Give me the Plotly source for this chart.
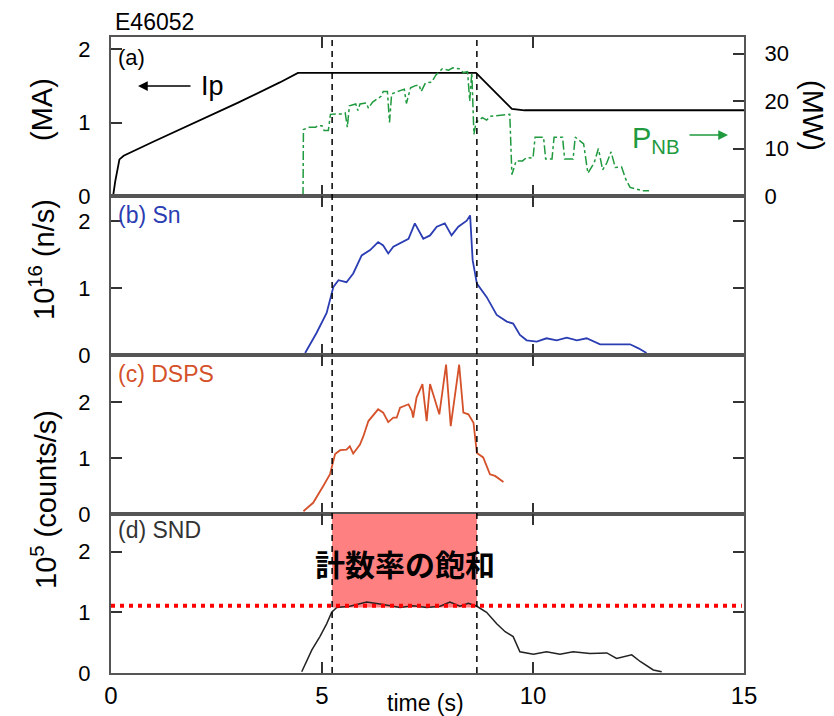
import plotly.graph_objects as go

# ---------------- data ----------------
ip_t = [0.05, 0.1, 0.2, 0.3, 1.0, 2.0, 3.0, 4.0, 4.43, 8.65, 9.5, 9.8, 15.0]
ip_v = [0.0, 0.2, 0.5, 0.55, 0.74, 1.0, 1.27, 1.55, 1.68, 1.68, 1.19, 1.17, 1.17]

pnb_t = [4.55, 4.56, 4.7, 4.85, 4.9, 5.0, 5.05, 5.15, 5.2, 5.45, 5.55, 5.6, 5.65, 5.8, 5.85,
         5.9, 6.05, 6.1, 6.2, 6.4, 6.45, 6.55, 6.6, 6.65, 6.85, 6.95, 7.0, 7.1, 7.2, 7.3,
         7.35, 7.45, 7.6, 7.7, 7.85, 8.0, 8.1, 8.25, 8.35, 8.45, 8.5, 8.55, 8.6, 8.65, 8.8,
         8.9, 9.0, 9.2, 9.45, 9.5, 9.6, 9.75, 9.85, 10.0, 10.05, 10.25, 10.3, 10.45, 10.5,
         10.7, 10.75, 10.95, 11.0, 11.2, 11.3, 11.45, 11.55, 11.65, 11.75, 11.85, 11.95,
         12.1, 12.2, 12.3, 12.6, 12.75]
pnb_v = [0.0, 14.0, 14.5, 14.5, 14.8, 14.8, 13.8, 13.8, 17.2, 17.3, 17.5, 14.5, 19.0, 19.4, 18.0,
         19.4, 19.6, 18.5, 19.8, 21.0, 22.0, 22.0, 15.5, 21.5, 22.2, 22.5, 19.5, 22.8, 23.2, 23.4,
         22.0, 23.8, 24.0, 25.5, 26.8, 26.5, 27.0, 26.8, 26.0, 26.2, 20.0, 26.0, 13.0, 15.5, 16.5,
         16.0, 16.8, 17.0, 17.2, 4.5, 7.4, 7.4, 8.1, 8.0, 12.4, 12.4, 7.8, 7.8, 12.4,
         12.4, 7.8, 7.8, 12.4, 11.0, 4.8, 7.0, 10.0, 5.5, 7.0, 9.3, 6.0,
         6.1, 3.5, 1.8, 1.1, 1.1]

sn_t = [4.6, 4.87, 5.11, 5.27, 5.39, 5.58, 5.74, 5.94, 6.14, 6.33, 6.45, 6.57, 6.69, 6.89, 7.05,
        7.2, 7.4, 7.56, 7.72, 7.91, 8.07, 8.23, 8.43, 8.51, 8.57, 8.67, 8.9, 9.14, 9.38, 9.53,
        9.69, 9.85, 10.09, 10.32, 10.56, 10.8, 11.04, 11.27, 11.59, 11.9, 12.3, 12.5, 12.69]
sn_v = [0.03, 0.33, 0.63, 1.02, 1.12, 1.09, 1.22, 1.49, 1.57, 1.69, 1.64, 1.52, 1.62, 1.69, 1.74,
        1.97, 1.74, 1.79, 1.92, 1.97, 1.79, 1.92, 2.01, 2.09, 1.42, 1.07, 0.87, 0.60, 0.50, 0.47,
        0.30, 0.22, 0.20, 0.25, 0.22, 0.26, 0.22, 0.25, 0.16, 0.16, 0.16, 0.10, 0.03]

dsps_t = [4.56, 4.79, 5.03, 5.19, 5.31, 5.43, 5.58, 5.66, 5.74, 5.9, 5.98, 6.1, 6.33, 6.45, 6.57,
          6.69, 6.77, 6.85, 7.05, 7.13, 7.16, 7.24, 7.38, 7.48, 7.56, 7.78, 7.94, 8.05, 8.25,
          8.35, 8.47, 8.59, 8.67, 8.82, 8.98, 9.1, 9.3]
dsps_v = [0.05, 0.2, 0.5, 0.71, 1.07, 1.14, 1.15, 1.21, 1.08, 1.24, 1.39, 1.66, 1.87, 1.81, 1.64,
          1.72, 1.72, 1.90, 1.96, 1.84, 1.72, 2.08, 2.32, 1.66, 2.32, 1.78, 2.67, 1.57, 2.67,
          1.81, 1.78, 1.63, 1.09, 1.01, 0.71, 0.68, 0.57]

snd_t = [4.52, 4.76, 4.95, 5.11, 5.23, 5.35, 5.66, 6.06, 6.45, 6.85, 7.16, 7.48, 7.8, 8.03, 8.27,
         8.47, 8.67, 8.9, 9.14, 9.34, 9.53, 9.69, 10.01, 10.32, 10.64, 10.95, 11.35, 11.75,
         11.98, 12.34, 12.54, 12.85, 13.05]
snd_v = [0.02, 0.38, 0.6, 0.81, 1.0, 1.08, 1.1, 1.17, 1.13, 1.08, 1.11, 1.08, 1.1, 1.17, 1.1,
         1.15, 1.1, 1.0, 0.81, 0.68, 0.6, 0.35, 0.31, 0.35, 0.31, 0.35, 0.32, 0.33,
         0.24, 0.3, 0.19, 0.05, 0.02]

t_marks = [5.24, 8.67]          # dashed vertical lines
sat_t = [5.24, 8.67]            # saturation window
sat_level = 1.11                # saturation level (10^5 counts/s)
sat_box_bottom = 1.08

x_ticks = [0, 5, 10, 15]

# ---------------- layout helpers ----------------
# page body has an 8px margin, so the figure is drawn at an (8, 8) offset
OFF = 8
W, H = 834 - OFF, 716 - OFF
L, R, T, B = 111 - OFF, 744 - OFF, 37 - OFF, 673 - OFF   # plot area in figure pixels
def px(x): return (x - OFF - L) / (R - L)     # x given in window pixels
def py(y): return (B - (y - OFF)) / (B - T)   # y given in window pixels

FONT = 'Liberation Sans, Arial, sans-serif'
AX = '#555555'

fig = go.Figure()
fig.add_trace(go.Scatter(x=ip_t, y=ip_v, mode='lines', line=dict(color='black', width=1.8),
                         xaxis='x', yaxis='y', showlegend=False))
fig.add_trace(go.Scatter(x=pnb_t, y=pnb_v, mode='lines',
                         line=dict(color='#1f9a3e', width=1.5, dash='dashdot'),
                         xaxis='x', yaxis='y5', showlegend=False))
fig.add_trace(go.Scatter(x=sn_t, y=sn_v, mode='lines', line=dict(color='#2b3db3', width=1.8),
                         xaxis='x2', yaxis='y2', showlegend=False))
fig.add_trace(go.Scatter(x=dsps_t, y=dsps_v, mode='lines', line=dict(color='#d4512a', width=1.8),
                         xaxis='x3', yaxis='y3', showlegend=False))
fig.add_trace(go.Scatter(x=snd_t, y=snd_v, mode='lines', line=dict(color='#222222', width=1.5),
                         xaxis='x4', yaxis='y4', showlegend=False))

def xax(anchor, labels=False, matches=None):
    d = dict(domain=[0, 1], anchor=anchor, range=[0, 15], tickvals=x_ticks,
             ticks='inside', ticklen=11, tickwidth=1.5, tickcolor='#333',
             showline=True, linecolor=AX, linewidth=2, mirror='ticks',
             showgrid=False, zeroline=False, showticklabels=labels,
             tickfont=dict(family=FONT, size=24, color='black'))
    if matches:
        d['matches'] = matches
    return d

def yax(dom, rng, mirror='ticks', anchor='x'):
    return dict(domain=dom, range=rng, tickvals=[0, 1, 2], anchor=anchor,
                ticks='inside', ticklen=11, tickwidth=1.5, tickcolor='#333',
                showline=True, linecolor=AX, linewidth=2, mirror=mirror,
                showgrid=False, zeroline=False, ticklabelstandoff=14,
                tickfont=dict(family=FONT, size=22, color='black'))

shapes = []
shapes.append(dict(type='rect', xref='x4', yref='y4', x0=sat_t[0], x1=sat_t[1],
                   y0=sat_box_bottom, y1=2.62, fillcolor='#ff8080', line=dict(width=0),
                   layer='below'))
for tm in t_marks:
    shapes.append(dict(type='line', xref='x', yref='paper', x0=tm, x1=tm, y0=0, y1=1,
                       line=dict(color='black', width=1.5, dash='6px,5px')))
shapes.append(dict(type='line', xref='x4', yref='y4', x0=0, x1=14.95, y0=sat_level, y1=sat_level,
                   line=dict(color='#ff0000', width=4, dash='4px,5px')))

def ann(text, x, y, size=20, color='black', xanchor='left', angle=0, family=FONT, **kw):
    return dict(text=text, x=px(x), y=py(y), xref='paper', yref='paper', showarrow=False,
                xanchor=xanchor, yanchor='middle', textangle=angle,
                font=dict(family=family, size=size, color=color), **kw)

annotations = [
    ann('E46052', 113, 22, size=23),
    ann('(a)', 116, 57, size=22),
    ann('Ip', 212, 86, size=27, xanchor='center'),
    ann('P<sub>NB</sub>', 656, 140, size=29, color='#1f9a3e', xanchor='center'),
    ann('(b) Sn', 116, 215, size=23, color='#2b3db3'),
    ann('(c) DSPS', 116, 374, size=23, color='#d4512a'),
    ann('(d) SND', 116, 530, size=23, color='#333333'),
    ann('<b>計数率の飽和</b>', 405, 563, size=30, xanchor='center', family='Noto Sans CJK JP'),
    ann('time (s)', 425, 703, size=23, xanchor='center'),
    ann('(MA)', 42, 110, size=29, xanchor='center', angle=-90),
    ann('10<sup>16</sup> (n/s)', 42, 260, size=29, xanchor='center', angle=-90),
    ann('10<sup>5</sup> (counts/s)', 44, 500, size=29, xanchor='center', angle=-90),
    ann('(MW)', 813, 116, size=29, xanchor='center', angle=90),
]
# arrows (offsets in pixels from the tip to the tail)
annotations.append(dict(text='', x=px(138), y=py(86), xref='paper', yref='paper',
                        ax=54, ay=0, axref='pixel', ayref='pixel', showarrow=True,
                        arrowhead=2, arrowsize=1.3, arrowwidth=1.5, arrowcolor='black'))
annotations.append(dict(text='', x=px(728), y=py(135), xref='paper', yref='paper',
                        ax=-40, ay=0, axref='pixel', ayref='pixel', showarrow=True,
                        arrowhead=2, arrowsize=1.3, arrowwidth=1.5, arrowcolor='#1f9a3e'))

fig.update_layout(
    width=W, height=H, margin=dict(l=L, r=W - R, t=T, b=H - B, autoexpand=False),
    paper_bgcolor='white', plot_bgcolor='white', showlegend=False,
    xaxis=xax('y'), xaxis2=xax('y2', matches='x'), xaxis3=xax('y3', matches='x'),
    xaxis4=xax('y4', labels=True, matches='x'),
    yaxis=yax([0.75, 1.0], [0, 2.17], mirror=True, anchor='x'),
    yaxis2=yax([0.5, 0.75], [0, 2.38], anchor='x2'),
    yaxis3=yax([0.25, 0.5], [0, 2.84], anchor='x3'),
    yaxis4=yax([0.0, 0.25], [0, 2.62], anchor='x4'),
    yaxis5=dict(overlaying='y', side='right', anchor='x', range=[0, 33.5], tickvals=[0, 10, 20, 30],
                ticks='inside', ticklen=11, tickwidth=1.5, tickcolor='#333',
                showline=True, linecolor=AX, linewidth=2, showgrid=False, zeroline=False,
                ticklabelstandoff=14, tickfont=dict(family=FONT, size=22, color='black')),
    shapes=shapes, annotations=annotations,
)

fig.write_html('out.html')
